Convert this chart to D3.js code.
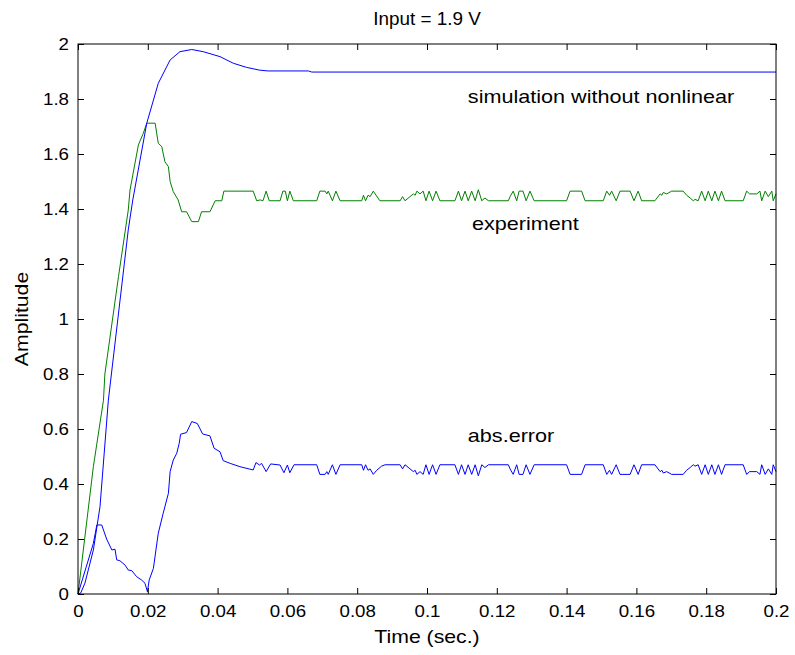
<!DOCTYPE html>
<html>
<head>
<meta charset="utf-8">
<script src="https://cdn.jsdelivr.net/npm/d3@7"></script>
<style>
  html, body { margin: 0; padding: 0; background: #fff; }
  svg { display: block; }
  text { font-family: "Liberation Sans", Arial, sans-serif; fill: #000; }
</style>
</head>
<body>
<svg id="chart" width="795" height="655"></svg>
<script>
// ---------------- data ----------------
const titleText = "Input = 1.9 V";
const xLabel = "Time (sec.)";
const yLabel = "Amplitude";
const xTicks = [0, 0.02, 0.04, 0.06, 0.08, 0.1, 0.12, 0.14, 0.16, 0.18, 0.2];
const xTickLabels = ["0", "0.02", "0.04", "0.06", "0.08", "0.1", "0.12", "0.14", "0.16", "0.18", "0.2"];
const yTicks = [0, 0.2, 0.4, 0.6, 0.8, 1, 1.2, 1.4, 1.6, 1.8, 2];
const yTickLabels = ["0", "0.2", "0.4", "0.6", "0.8", "1", "1.2", "1.4", "1.6", "1.8", "2"];

const simulation = [
  [0, 0], [0.0008, 0.004], [0.002, 0.04], [0.0044, 0.16], [0.0063, 0.317], [0.0087, 0.705],
  [0.0144, 1.324], [0.0157, 1.433], [0.0197, 1.712], [0.023, 1.857], [0.0264, 1.942],
  [0.0292, 1.972], [0.0326, 1.98], [0.0359, 1.972], [0.0407, 1.954], [0.0445, 1.93],
  [0.0483, 1.915], [0.052, 1.905], [0.0544, 1.902], [0.066, 1.902], [0.067, 1.898], [0.2, 1.898]
];

const experiment = [
  [0, 0], [0.0044, 0.463], [0.0073, 0.705], [0.0077, 0.80], [0.0116, 1.154], [0.0144, 1.396],
  [0.0149, 1.469], [0.0173, 1.633], [0.0187, 1.675], [0.0197, 1.712], [0.0221, 1.712],
  [0.023, 1.639], [0.024, 1.627], [0.0249, 1.572], [0.0259, 1.554], [0.0264, 1.5],
  [0.0273, 1.463], [0.0287, 1.433], [0.0297, 1.39], [0.0311, 1.39], [0.0326, 1.354],
  [0.0345, 1.354], [0.0354, 1.39], [0.0378, 1.39], [0.0393, 1.43], [0.0412, 1.43],
  [0.0418, 1.465], [0.0502, 1.465],
  [0.0512, 1.43], [0.0522, 1.433], [0.0530, 1.43], [0.0539, 1.465], [0.0548, 1.43],
  [0.0579, 1.43], [0.0587, 1.465], [0.0594, 1.465], [0.0600, 1.43], [0.0607, 1.465], [0.0617, 1.43],
  [0.0684, 1.43], [0.0693, 1.465], [0.0708, 1.465], [0.0713, 1.455], [0.0717, 1.465], [0.0729, 1.43],
  [0.0739, 1.465], [0.0751, 1.43],
  [0.0813, 1.43], [0.0818, 1.45], [0.0824, 1.43], [0.0831, 1.45], [0.0837, 1.445], [0.0846, 1.465], [0.0865, 1.43],
  [0.0923, 1.43], [0.0930, 1.445], [0.0937, 1.43], [0.0961, 1.455], [0.0966, 1.45], [0.0971, 1.465],
  [0.0980, 1.455], [0.0989, 1.465], [0.0997, 1.43], [0.1006, 1.465], [0.1016, 1.43], [0.1026, 1.465], [0.1037, 1.43],
  [0.1080, 1.43], [0.1090, 1.465], [0.1099, 1.43], [0.1109, 1.465], [0.1118, 1.43], [0.1128, 1.465],
  [0.1138, 1.43], [0.1147, 1.47], [0.1157, 1.43], [0.1166, 1.44], [0.1176, 1.43],
  [0.1233, 1.43], [0.1238, 1.445], [0.1247, 1.465], [0.1257, 1.43], [0.1264, 1.465], [0.1275, 1.465],
  [0.1284, 1.43], [0.1295, 1.465], [0.1307, 1.43],
  [0.1400, 1.43], [0.1410, 1.465], [0.1443, 1.465], [0.1453, 1.43],
  [0.1505, 1.43], [0.1515, 1.465], [0.1523, 1.45], [0.1529, 1.465], [0.1542, 1.43], [0.1553, 1.465],
  [0.1582, 1.465], [0.1593, 1.43], [0.1605, 1.465], [0.1615, 1.43],
  [0.1653, 1.43], [0.1668, 1.455], [0.1673, 1.45], [0.1677, 1.46], [0.1687, 1.455], [0.1701, 1.465],
  [0.1734, 1.465], [0.1744, 1.45], [0.1754, 1.44], [0.1763, 1.43], [0.1768, 1.435], [0.1777, 1.43],
  [0.1787, 1.465], [0.1797, 1.43], [0.1806, 1.465], [0.1816, 1.43], [0.1825, 1.465], [0.1835, 1.43],
  [0.1844, 1.465], [0.1854, 1.43],
  [0.1906, 1.43], [0.1916, 1.465], [0.1924, 1.455], [0.1945, 1.455], [0.1954, 1.465], [0.1959, 1.43],
  [0.1969, 1.465], [0.1978, 1.445], [0.1988, 1.465], [0.1992, 1.43], [0.2, 1.455]
];

const absError = [
  [0, 0], [0.0044, 0.184], [0.0054, 0.251], [0.0068, 0.251], [0.0082, 0.2], [0.0097, 0.16],
  [0.0106, 0.163], [0.0111, 0.124], [0.012, 0.121], [0.0135, 0.105], [0.0144, 0.087],
  [0.0154, 0.085], [0.0168, 0.063], [0.0182, 0.051], [0.0192, 0.039], [0.0199, 0.008],
  [0.0204, 0.051], [0.0216, 0.093], [0.023, 0.221], [0.0244, 0.293], [0.0254, 0.342],
  [0.0259, 0.366], [0.0264, 0.445], [0.0273, 0.487], [0.0283, 0.512], [0.029, 0.548],
  [0.0294, 0.581], [0.0311, 0.587], [0.0326, 0.627], [0.0342, 0.62], [0.0357, 0.582],
  [0.0378, 0.575], [0.039, 0.53], [0.0407, 0.517], [0.0416, 0.485], [0.0436, 0.475],
  [0.0464, 0.463], [0.0502, 0.451],
  [0.0510, 0.478], [0.0520, 0.469], [0.0526, 0.475], [0.0539, 0.445], [0.0552, 0.473],
  [0.0579, 0.469], [0.0590, 0.441], [0.0600, 0.469], [0.0607, 0.441], [0.0619, 0.470],
  [0.0684, 0.47], [0.0693, 0.435], [0.0708, 0.435], [0.0713, 0.445], [0.0717, 0.435], [0.0729, 0.47],
  [0.0739, 0.435], [0.0751, 0.47],
  [0.0813, 0.47], [0.0818, 0.45], [0.0824, 0.47], [0.0831, 0.45], [0.0837, 0.455], [0.0846, 0.435],
  [0.0856, 0.45], [0.0870, 0.465], [0.0880, 0.47],
  [0.0923, 0.47], [0.0930, 0.455], [0.0937, 0.47], [0.0961, 0.445], [0.0966, 0.45], [0.0971, 0.435],
  [0.0980, 0.445], [0.0989, 0.435], [0.0997, 0.47], [0.1006, 0.435], [0.1016, 0.47], [0.1026, 0.435], [0.1037, 0.47],
  [0.1080, 0.47], [0.1090, 0.435], [0.1099, 0.47], [0.1109, 0.435], [0.1118, 0.47], [0.1128, 0.435],
  [0.1138, 0.47], [0.1147, 0.43], [0.1157, 0.47], [0.1166, 0.46], [0.1176, 0.47],
  [0.1233, 0.47], [0.1238, 0.455], [0.1247, 0.435], [0.1257, 0.47], [0.1264, 0.435], [0.1275, 0.435],
  [0.1284, 0.47], [0.1295, 0.435], [0.1307, 0.47],
  [0.1400, 0.47], [0.1410, 0.435], [0.1443, 0.435], [0.1453, 0.47],
  [0.1505, 0.47], [0.1515, 0.435], [0.1523, 0.45], [0.1529, 0.435], [0.1542, 0.47], [0.1553, 0.435],
  [0.1582, 0.435], [0.1593, 0.47], [0.1605, 0.435], [0.1615, 0.47],
  [0.1653, 0.47], [0.1668, 0.445], [0.1673, 0.45], [0.1677, 0.44], [0.1687, 0.445], [0.1701, 0.435],
  [0.1734, 0.435], [0.1744, 0.45], [0.1754, 0.46], [0.1763, 0.47], [0.1768, 0.465], [0.1777, 0.47],
  [0.1787, 0.435], [0.1797, 0.47], [0.1806, 0.435], [0.1816, 0.47], [0.1825, 0.435], [0.1835, 0.47],
  [0.1844, 0.435], [0.1854, 0.47],
  [0.1906, 0.47], [0.1916, 0.435], [0.1924, 0.445], [0.1945, 0.445], [0.1954, 0.435], [0.1959, 0.47],
  [0.1969, 0.435], [0.1978, 0.455], [0.1988, 0.435], [0.1992, 0.47], [0.2, 0.445]
];

const annotations = [
  { text: "simulation without nonlinear", x: 0.1117, y: 1.785 },
  { text: "experiment", x: 0.1129, y: 1.324 },
  { text: "abs.error", x: 0.1117, y: 0.553 }
];

// ---------------- layout ----------------
const margin = { left: 78, right: 19, top: 44, bottom: 61 };
const W = 795, H = 655;
const pw = W - margin.left - margin.right;
const ph = H - margin.top - margin.bottom;
const tickFont = 17, tickStretch = 1.1;
const labelFont = 18, labelStretch = 1.18;
const annFont = 18, annStretch = 1.2;
const titleFont = 18, titleStretch = 1.05;

const svg = d3.select("#chart");
const g = svg.append("g").attr("transform", `translate(${margin.left},${margin.top})`);

const x = d3.scaleLinear().domain([0, 0.2]).range([0, pw]);
const y = d3.scaleLinear().domain([0, 2]).range([ph, 0]);

const line = d3.line().x(d => x(d[0])).y(d => y(d[1]));

g.append("rect").attr("x", 0).attr("y", 0).attr("width", pw).attr("height", ph)
  .attr("fill", "#fff");

g.append("path").datum(experiment).attr("d", line)
  .attr("fill", "none").attr("stroke", "#008000").attr("stroke-width", 1);
g.append("path").datum(simulation).attr("d", line)
  .attr("fill", "none").attr("stroke", "#0000ff").attr("stroke-width", 1);
g.append("path").datum(absError).attr("d", line)
  .attr("fill", "none").attr("stroke", "#0000ff").attr("stroke-width", 1);

// axes (MATLAB style: inward ticks on all four sides)
const tickLen = 6;
function styleAxis(sel) {
  sel.select(".domain").remove();
  sel.selectAll(".tick line").attr("stroke", "#000");
  sel.selectAll(".tick text").attr("font-size", tickFont).attr("font-family", "Liberation Sans, Arial, sans-serif");
}
const xAxis = g.append("g").attr("transform", `translate(0,${ph})`)
  .call(d3.axisBottom(x).tickValues(xTicks).tickFormat((d, i) => xTickLabels[i]).tickSizeInner(-tickLen).tickSizeOuter(0));
styleAxis(xAxis);
const xAxisTop = g.append("g")
  .call(d3.axisTop(x).tickValues(xTicks).tickFormat("").tickSizeInner(-tickLen).tickSizeOuter(0));
styleAxis(xAxisTop);
const yAxis = g.append("g")
  .call(d3.axisLeft(y).tickValues(yTicks).tickFormat((d, i) => yTickLabels[i]).tickSizeInner(-tickLen).tickSizeOuter(0));
styleAxis(yAxis);
const yAxisRight = g.append("g").attr("transform", `translate(${pw},0)`)
  .call(d3.axisRight(y).tickValues(yTicks).tickFormat("").tickSizeInner(-tickLen).tickSizeOuter(0));
styleAxis(yAxisRight);

// horizontal stretch of tick labels to match reference glyph width
xAxis.selectAll(".tick text")
  .attr("x", 0).attr("y", 0).attr("dy", null)
  .attr("transform", `translate(0,23) scale(${tickStretch},1)`);
yAxis.selectAll(".tick text")
  .attr("x", 0).attr("dy", "0.35em")
  .attr("transform", `translate(-9,0) scale(${tickStretch},1)`);

g.append("rect").attr("x", 0).attr("y", 0).attr("width", pw).attr("height", ph)
  .attr("fill", "none").attr("stroke", "#000").attr("stroke-width", 1);

// annotations
annotations.forEach(a => {
  g.append("text")
    .attr("transform", `translate(${x(a.x)},${y(a.y)}) scale(${annStretch},1)`)
    .attr("font-size", annFont)
    .text(a.text);
});

// title & labels
svg.append("text")
  .attr("transform", `translate(${margin.left + pw / 2},${25}) scale(${titleStretch},1)`)
  .attr("text-anchor", "middle").attr("font-size", titleFont).text(titleText);
svg.append("text")
  .attr("transform", `translate(${margin.left + pw / 2},${643}) scale(${labelStretch},1)`)
  .attr("text-anchor", "middle").attr("font-size", labelFont).text(xLabel);
svg.append("text")
  .attr("transform", `translate(${28},${margin.top + ph / 2}) rotate(-90) scale(${labelStretch},1)`)
  .attr("text-anchor", "middle").attr("font-size", labelFont).text(yLabel);
</script>
</body>
</html>
